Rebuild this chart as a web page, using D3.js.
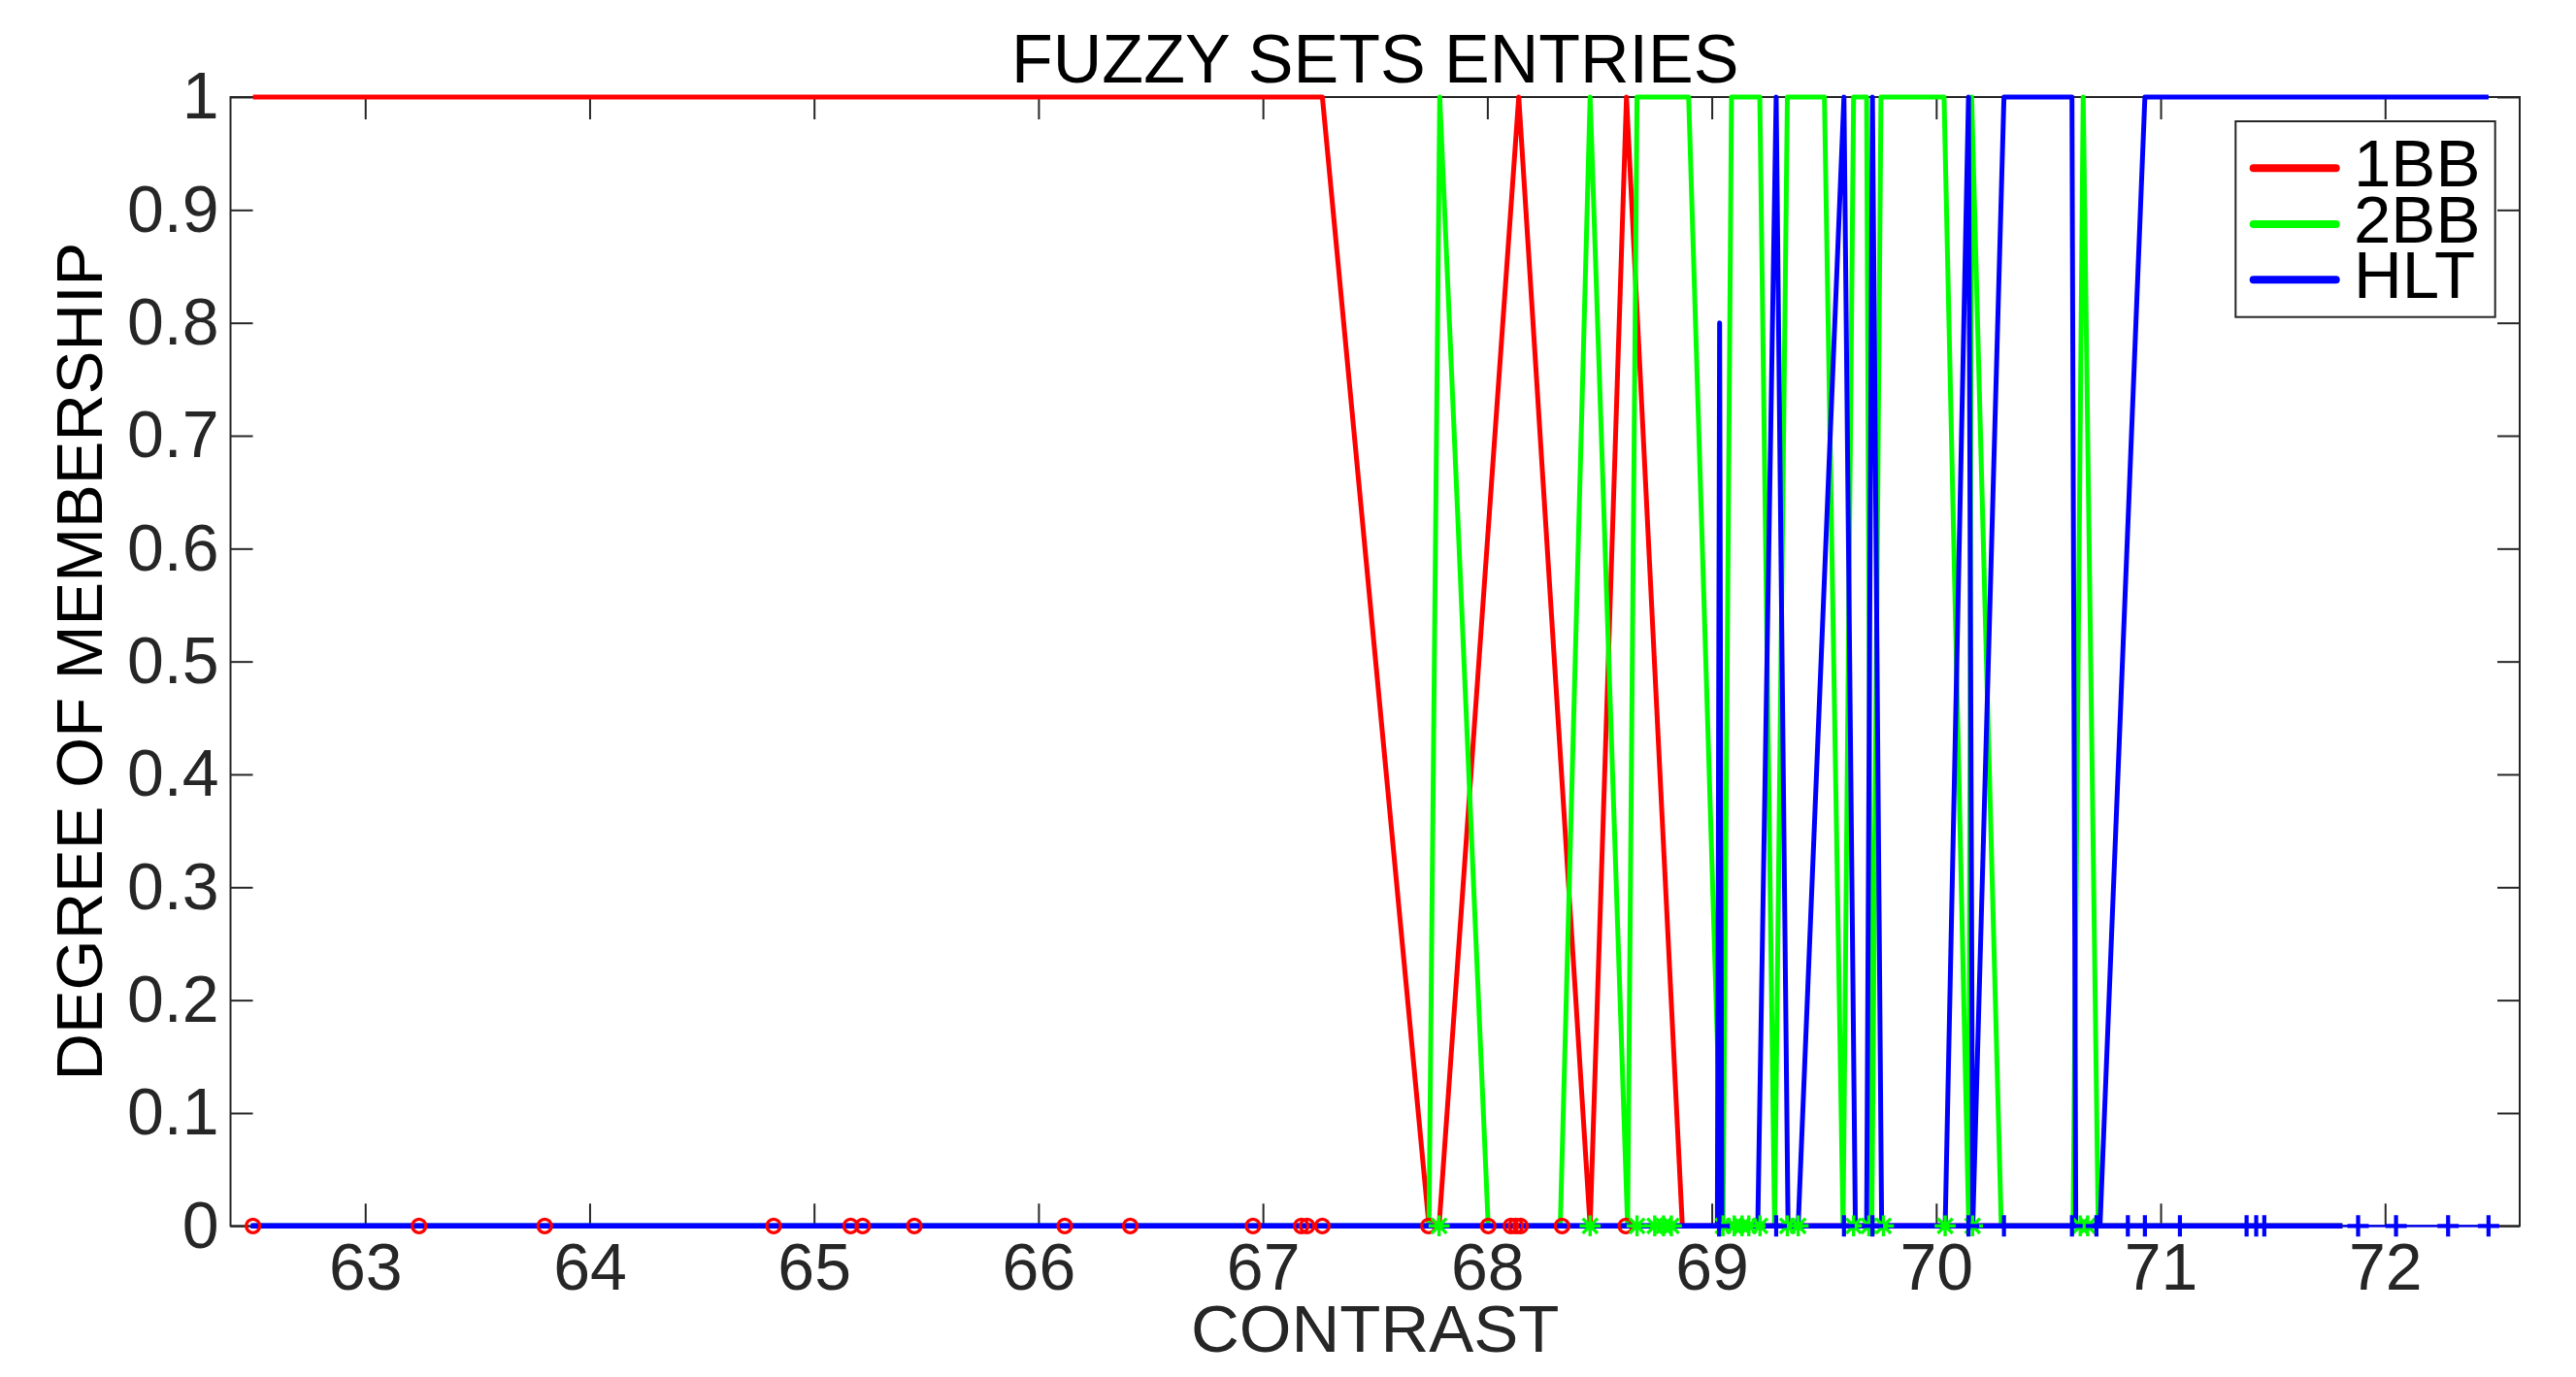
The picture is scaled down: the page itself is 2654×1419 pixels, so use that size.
<!DOCTYPE html>
<html>
<head>
<meta charset="utf-8">
<script src="https://cdn.jsdelivr.net/npm/d3@7/dist/d3.min.js"></script>
<style>
  html, body { margin: 0; padding: 0; background: #ffffff; }
  svg { display: block; }
  text { font-family: "Liberation Sans", Arial, Helvetica, sans-serif; }
</style>
</head>
<body>
<script>
// ---------- data ----------
const xTicks = [63, 64, 65, 66, 67, 68, 69, 70, 71, 72];
const yTicks = [0, 0.1, 0.2, 0.3, 0.4, 0.5, 0.6, 0.7, 0.8, 0.9, 1];
const yTickLabels = ["0", "0.1", "0.2", "0.3", "0.4", "0.5", "0.6", "0.7", "0.8", "0.9", "1"];
const seriesNames = ["1BB", "2BB", "HLT"];

// membership lines (contrast, degree)
const line1BB_x = [62.5, 67.265, 67.74, 67.785, 68.14, 68.458, 68.62, 68.869, 71.81];
const line1BB_y = [1, 1, 0, 0, 1, 0, 1, 0, 0];

const line2BB_x = [62.5, 67.74, 67.788, 68.004, 68.325, 68.458, 68.625, 68.667, 68.897, 69.05, 69.088,
                   69.214, 69.28, 69.337, 69.502, 69.585, 69.632, 69.69, 69.713, 69.754, 70.035, 70.145,
                   70.158, 70.29, 70.61, 70.655, 70.722, 71.81];
const line2BB_y = [0, 0, 1, 0, 0, 1, 0, 1, 1, 0, 1,
                   1, 0, 1, 1, 0, 1, 1, 0, 1, 1, 0,
                   1, 0, 0, 1, 0, 0];

const lineHLT_x = [62.5, 69.025, 69.035, 69.045, 69.205, 69.287, 69.34, 69.385, 69.589, 69.64, 69.69,
                   69.716, 69.757, 70.04, 70.144, 70.163, 70.302, 70.605, 70.622, 70.73, 70.93, 72.461];
const lineHLT_y = [0, 0, 0.8, 0, 0, 1, 0, 0, 1, 0, 0,
                   1, 0, 0, 1, 0, 1, 1, 0, 0, 1, 1];

// zero baselines drawn in blue
const baseThick_x = [62.49, 71.81];
const baseThin_x = [71.81, 72.5];

// sample positions (markers on y = 0)
const samples1BB = [62.50, 63.24, 63.80, 64.82, 65.163, 65.217, 65.447, 66.117, 66.409, 66.956,
                    67.171, 67.197, 67.265, 67.738, 68.004, 68.105, 68.127, 68.148, 68.333, 68.617];
const samples2BB = [67.785, 68.458, 68.667, 68.746, 68.785, 68.82, 69.05, 69.10, 69.135, 69.165,
                    69.215, 69.337, 69.385, 69.632, 69.70, 69.765, 70.04, 70.162, 70.642, 70.675];
const samplesHLT = [69.033, 69.287, 69.589, 69.716, 70.144, 70.302, 70.605, 70.714, 70.854, 70.93,
                    71.086, 71.383, 71.426, 71.462, 71.88, 72.049, 72.281, 72.461];

// ---------- layout ----------
const W = 2654, H = 1419;
const L = 237.5, R = 2596, T = 100, B = 1263.3;
const axisColor = "#262626";
const cRed = "#ff0000", cGreen = "#00ff00", cBlue = "#0000ff";

const svg = d3.select("body").append("svg").attr("width", W).attr("height", H);
svg.append("rect").attr("width", W).attr("height", H).attr("fill", "#ffffff");

const x = d3.scaleLinear().domain([62.4, 72.6]).range([L, R]);
const y = d3.scaleLinear().domain([0, 1]).range([B, T]);

// ---------- axes ----------
const tickLen = 23;
const fs = 68;

const gB = svg.append("g").attr("transform", `translate(0,${B})`)
  .call(d3.axisBottom(x).tickValues(xTicks).tickFormat(d3.format("d"))
        .tickSizeInner(-tickLen).tickSizeOuter(0).tickPadding(17));
const gT = svg.append("g").attr("transform", `translate(0,${T})`)
  .call(d3.axisTop(x).tickValues(xTicks).tickFormat("")
        .tickSizeInner(-tickLen).tickSizeOuter(0));
const gL = svg.append("g").attr("transform", `translate(${L},0)`)
  .call(d3.axisLeft(y).tickValues(yTicks).tickFormat((d, i) => yTickLabels[i])
        .tickSizeInner(-tickLen).tickSizeOuter(0).tickPadding(12));
const gR = svg.append("g").attr("transform", `translate(${R},0)`)
  .call(d3.axisRight(y).tickValues(yTicks).tickFormat("")
        .tickSizeInner(-tickLen).tickSizeOuter(0));

[gB, gT, gL, gR].forEach(g => {
  g.select(".domain").remove();
  g.selectAll(".tick line").attr("stroke", axisColor).attr("stroke-width", 2);
  g.selectAll(".tick text").attr("fill", axisColor).attr("font-size", fs)
    .attr("font-family", "'Liberation Sans', Arial, Helvetica, sans-serif");
});

// frame
svg.append("rect").attr("x", L).attr("y", T).attr("width", R - L).attr("height", B - T)
  .attr("fill", "none").attr("stroke", axisColor).attr("stroke-width", 2);

// ---------- lines ----------
const lineGen = d3.line().x(d => x(d[0])).y(d => y(d[1]));
const zipXY = (xs, ys) => xs.map((v, i) => [v, ys[i]]);

const plot = svg.append("g");
function drawLine(data, color, w) {
  plot.append("path").datum(data).attr("d", lineGen)
    .attr("fill", "none").attr("stroke", color).attr("stroke-width", w)
    .attr("stroke-linejoin", "round").attr("stroke-linecap", "butt");
}
drawLine(zipXY(line1BB_x, line1BB_y), cRed, 5);
drawLine(zipXY(line2BB_x, line2BB_y), cGreen, 5);
drawLine(zipXY(lineHLT_x, lineHLT_y), cBlue, 5);
drawLine(baseThick_x.map(v => [v, 0]), cBlue, 5.5);
drawLine(baseThin_x.map(v => [v, 0]), cBlue, 2.2);

// ---------- markers ----------
const mk = svg.append("g");
mk.selectAll("circle.m1").data(samples1BB).enter().append("circle")
  .attr("cx", d => x(d)).attr("cy", y(0)).attr("r", 7)
  .attr("fill", "none").attr("stroke", cRed).attr("stroke-width", 3.2);

const s = 10.8, k = s * 0.7071;
const asterisk = `M${-s},0H${s}M0,${-s}V${s}M${-k},${-k}L${k},${k}M${-k},${k}L${k},${-k}`;
mk.selectAll("path.m2").data(samples2BB).enter().append("path")
  .attr("transform", d => `translate(${x(d)},${y(0)})`).attr("d", asterisk)
  .attr("fill", "none").attr("stroke", cGreen).attr("stroke-width", 3.4);

const p = 11;
const plus = `M${-p},0H${p}M0,${-p}V${p}`;
mk.selectAll("path.m3").data(samplesHLT).enter().append("path")
  .attr("transform", d => `translate(${x(d)},${y(0)})`).attr("d", plus)
  .attr("fill", "none").attr("stroke", cBlue).attr("stroke-width", 4.2);

// ---------- titles ----------
svg.append("text").attr("x", (L + R) / 2).attr("y", 85).attr("text-anchor", "middle")
  .attr("font-size", 70).attr("fill", "#000").text("FUZZY SETS ENTRIES");
svg.append("text").attr("x", (L + R) / 2).attr("y", 1393).attr("text-anchor", "middle")
  .attr("font-size", 69).attr("fill", axisColor).text("CONTRAST");
svg.append("text").attr("transform", `translate(104.5,${(T + B) / 2}) rotate(-90)`)
  .attr("text-anchor", "middle").attr("font-size", 67).attr("fill", "#000")
  .text("DEGREE OF MEMBERSHIP");

// ---------- legend ----------
const lg = svg.append("g");
lg.append("rect").attr("x", 2303.3).attr("y", 125).attr("width", 267.4).attr("height", 201.7)
  .attr("fill", "#ffffff").attr("stroke", axisColor).attr("stroke-width", 2);
const legColors = [cRed, cGreen, cBlue];
const legY = [173.3, 231, 288.3];
seriesNames.forEach((nm, i) => {
  lg.append("line").attr("x1", 2321.7).attr("x2", 2406.7).attr("y1", legY[i]).attr("y2", legY[i])
    .attr("stroke", legColors[i]).attr("stroke-width", 8).attr("stroke-linecap", "round");
  lg.append("text").attr("x", 2425).attr("y", legY[i] + 18.5).attr("font-size", 69)
    .attr("fill", "#000").text(nm);
});
</script>
</body>
</html>
